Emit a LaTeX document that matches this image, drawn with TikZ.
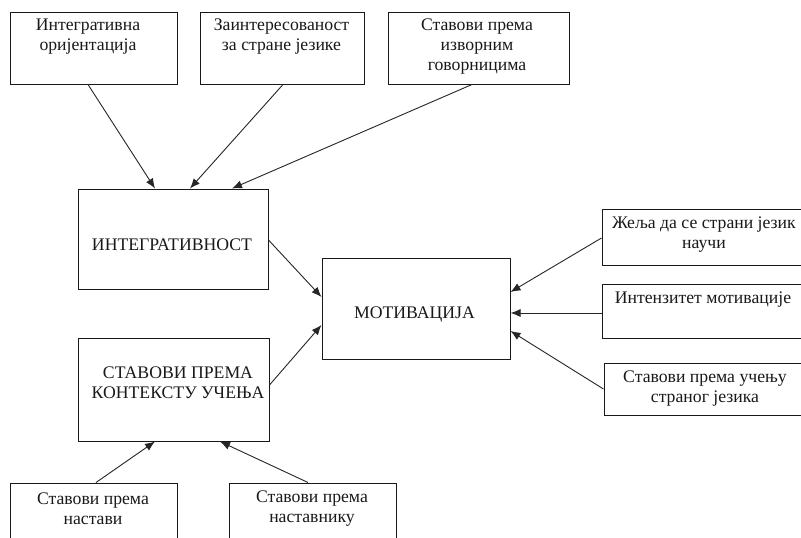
\documentclass[tikz,border=0pt]{standalone}
\usepackage{fontspec}
\setmainfont{Liberation Serif}
\usetikzlibrary{arrows.meta}
\tikzset{
  box/.style={draw=black!90, line width=1pt, inner sep=0pt, fill=white},
  lbl/.style={inner sep=0pt, align=center, text=black!90, font=\fontsize{17.7}{20}\selectfont},
  arr/.style={draw=black!85, line width=0.9pt, -{Latex[length=10pt,width=8pt]}}
}
\begin{document}
\begin{tikzpicture}[x=1pt,y=-1pt]
\useasboundingbox (0,0) rectangle (801,538);
\clip (0,0) rectangle (801,538);
\fill[white] (0,0) rectangle (801,538);
% top boxes
\node[box, minimum width=167pt, minimum height=72pt] (b1) at (93.5,48) {};
\node[box, minimum width=164pt, minimum height=72pt] (b2) at (282,48) {};
\node[box, minimum width=181pt, minimum height=72pt] (b3) at (478.5,48) {};
% middle boxes
\node[box, minimum width=190pt, minimum height=100pt] (int) at (173,239) {};
\node[box, minimum width=188pt, minimum height=101pt] (mot) at (416,308.5) {};
\node[box, minimum width=191pt, minimum height=103pt] (ctx) at (173.5,389.5) {};
% right boxes
\node[box, minimum width=208pt, minimum height=56pt] (r1) at (706,237) {};
\node[box, minimum width=208pt, minimum height=54pt] (r2) at (706,311) {};
\node[box, minimum width=206pt, minimum height=52pt] (r3) at (707,389) {};
% bottom boxes
\node[box, minimum width=167pt, minimum height=62pt] (bl1) at (93.5,514) {};
\node[box, minimum width=167pt, minimum height=62pt] (bl2) at (312.5,514) {};
% texts
\node[lbl] (t1) at (88,37) {Интегративна\\оријентација};
\node[lbl] (t2) at (281.5,37) {Заинтересованост\\за стране језике};
\node[lbl] (t3) at (477,47) {Ставови према\\изворним\\говорницима};
\node[lbl] (ti) at (172,245) {ИНТЕГРАТИВНОСТ};
\node[lbl] (tm) at (414.5,315) {МОТИВАЦИЈА};
\node[lbl] (tc) at (178,383) {СТАВОВИ ПРЕМА\\КОНТЕКСТУ УЧЕЊА};
\node[lbl] (tr1) at (704,234.5) {Жеља да се страни језик\\научи};
\node[lbl] (tr2) at (703,300) {Интензитет мотивације};
\node[lbl] (tr3) at (705,388.5) {Ставови према учењу\\страног језика};
\node[lbl] (tb1) at (93,508.5) {Ставови према\\настави};
\node[lbl] (tb2) at (312,508.5) {Ставови према\\наставнику};
% arrows
\draw[arr] ([xshift=-5.5pt]b1.south) -- ([xshift=-18pt]int.north);
\draw[arr] ([xshift=1pt]b2.south) -- ([xshift=17pt]int.north);
\draw[arr] ([xshift=-6.5pt]b3.south) -- ([xshift=59pt]int.north);
\draw[arr] ([yshift=-1pt]int.east) -- ([yshift=11.5pt]mot.west);
\draw[arr] ([yshift=4.5pt]ctx.east) -- ([yshift=-16.5pt]mot.west);
\draw[arr] ([yshift=-1pt]r1.west) -- ([yshift=16.5pt]mot.east);
\draw[arr] ([yshift=-2pt]r2.west) -- ([yshift=-4.5pt]mot.east);
\draw[arr] ([yshift=0pt]r3.west) -- ([yshift=-22.5pt]mot.east);
\draw[arr] ([xshift=2.5pt]bl1.north) -- ([xshift=-18.5pt]ctx.south);
\draw[arr] ([xshift=-4.5pt]bl2.north) -- ([xshift=46.5pt]ctx.south);
\end{tikzpicture}
\end{document}
